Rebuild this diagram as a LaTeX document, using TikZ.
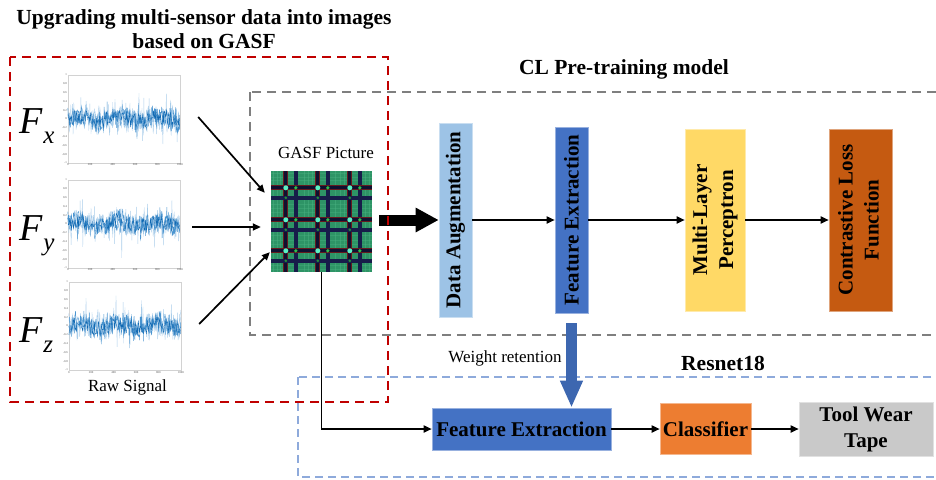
\documentclass[tikz,border=0pt]{standalone}
\usepackage{graphicx}
\usepackage{fontspec}
\setmainfont{Liberation Serif}
\usetikzlibrary{positioning, calc, arrows.meta}

\definecolor{augblue}{HTML}{9DC3E6}
\definecolor{featblue}{HTML}{4472C4}
\definecolor{mlpyellow}{HTML}{FFD966}
\definecolor{lossbrown}{HTML}{C55A11}
\definecolor{clsorange}{HTML}{ED7D31}
\definecolor{tapegray}{HTML}{C9C9C9}
\definecolor{framered}{HTML}{C00000}
\definecolor{framegray}{HTML}{7F7F7F}
\definecolor{frameblue}{HTML}{8EAADB}
\definecolor{sigpale}{HTML}{A9CDEA}
\definecolor{sigmid}{HTML}{4A94CF}
\definecolor{sigdark}{HTML}{1169B2}
\definecolor{gasfgreen}{HTML}{2E9466}
\definecolor{gasflight}{HTML}{4DB583}
\definecolor{gasfdark}{HTML}{0F1030}
\definecolor{gasfred}{HTML}{661A1E}
\definecolor{gasfnavy}{HTML}{171D4A}
\definecolor{gasfcyan}{HTML}{5CF2C2}
\definecolor{gasfdot}{HTML}{2FC04A}

\tikzset{
  headtext/.style={font=\rmfamily\fontsize{21.5}{23.5}\selectfont\bfseries, align=center},
  smalltext/.style={font=\rmfamily\fontsize{17}{19}\selectfont, inner sep=0pt},
  boxtext/.style={font=\rmfamily\fontsize{21}{26}\selectfont\bfseries, inner sep=0pt, align=center},
  stage/.style={boxtext, fill=#1, draw=#1!55!white, line width=0.6pt},
  flabel/.style={font=\rmfamily\fontsize{38}{40}\selectfont\itshape, inner sep=0pt},
  ticklbl/.style={font=\fontsize{3}{3}\selectfont, text=gray!70!black, inner sep=0.8pt},
  plotbox/.style={draw=gray!35, line width=0.4pt, minimum width=112pt, minimum height=88pt, inner sep=0pt},
  flow/.style={line width=1.7pt, -{Triangle[length=8pt,width=7pt]}},
  bigarrow/.style={line width=11pt, -{Triangle[length=23pt,width=23pt]}},
  weightarrow/.style={draw=featblue!90!black, line width=11pt, -{Triangle[length=27pt,width=21pt]}},
  framebox/.style={dash pattern=on 9pt off 6pt, line width=1.5pt}
}

% noisy trace inside a plot frame, #1 = frame node, #2 = seed
\newcommand{\rawsig}[2]{%
  \pgfmathsetseed{#2}
  \begin{scope}[shift={(#1.west)}]
    \draw[sigpale, line width=0.35pt] plot[domain=0:112, samples=300] (\x, {-42*(0.22*rand+0.78*rand*rand*rand)});
    \draw[sigmid, line width=0.35pt] plot[domain=0:112, samples=260] (\x, {-42*(0.08*sin(\x*9)+0.28*rand+0.4*rand*rand*rand)});
    \draw[sigdark, line width=0.35pt] plot[domain=0:112, samples=180] (\x, {-42*(0.06*sin(\x*9)+0.2*rand)});
    \foreach \v in {1,0.8,0.6,0.4,0.2,0,-0.2,-0.4,-0.6,-0.8,-1}
      \node[ticklbl, left] at (0,{-44*\v}) {\v};
    \foreach \k/\t in {0/0,1/200,2/400,3/600,4/800,5/1000}
      \node[ticklbl, below] at ({22.4*\k},44) {\t};
  \end{scope}
}

\begin{document}
\begin{tikzpicture}[x=1pt, y=-1pt]
  \clip (0,0) rectangle (936,479);

  % frames
  \draw[framebox, framegray] (250,92) rectangle (950,335);
  \draw[framebox, frameblue, dash pattern=on 8pt off 5pt] (298,377) rectangle (950,477);

  % headings
  \node[headtext] (ttlgasf) at (204,29) {Upgrading multi-sensor data into images\\based on GASF};
  \node[headtext, anchor=base] (ttlcl) at (624,74) {CL Pre-training model};
  \node[headtext, anchor=base] (ttlres) at (723,370) {Resnet18};

  % raw signals
  \node[plotbox] (fx) at (124,119) {};
  \node[plotbox] (fy) at (124,224) {};
  \node[plotbox] (fz) at (125,326) {};
  \rawsig{fx}{11}
  \rawsig{fy}{27}
  \rawsig{fz}{43}
  \node[flabel, anchor=base west] (lblx) at (19,133) {F\kern1pt\raisebox{-10pt}{\fontsize{25}{25}\selectfont x}};
  \node[flabel, anchor=base west] (lbly) at (19,240) {F\kern1pt\raisebox{-10pt}{\fontsize{25}{25}\selectfont y}};
  \node[flabel, anchor=base west] (lblz) at (19,342) {F\kern1pt\raisebox{-10pt}{\fontsize{25}{25}\selectfont z}};
  \node[smalltext, anchor=base] (rawlbl) at (127.5,391) {Raw Signal};

  % GASF image
  \node[minimum size=101pt, inner sep=0pt] (gasf) at (321.5,221.5) {};
  \begin{scope}[shift={(gasf.north west)}]
    \fill[gasfgreen] (0,0) rectangle (101,101);
    \foreach \p in {2,6,9,33,37,41,64,69,73,94,98} {
      \fill[gasflight, opacity=0.45] (\p,0) rectangle ++(1.6,101);
      \fill[gasflight, opacity=0.35] (0,\p) rectangle ++(101,1.6);
    }
    \foreach \p in {15,47,79} {
      \fill[gasfred] (\p-2.4,0) rectangle (\p+2.4,101);
      \fill[gasfdark] (\p-1.4,0) rectangle (\p+1.4,101);
      \fill[gasfnavy] (\p+8.2,0) rectangle (\p+11.8,101);
    }
    \foreach \p in {17,49,80} {
      \fill[gasfred] (0,\p-2.4) rectangle (101,\p+2.4);
      \fill[gasfdark] (0,\p-1.4) rectangle (101,\p+1.4);
      \fill[gasfnavy] (0,\p+8.2) rectangle (101,\p+11.8);
    }
    \foreach \a in {15,47,79} \foreach \b in {17,49,80} {
      \fill[gasfcyan] (\a,\b) circle (2.5);
      \fill[gasfdot] (\a+10,\b) circle (1.8);
      \fill[gasfdot!75!black] (\a,\b+10) circle (1.4);
    }
  \end{scope}
  \node[smalltext, anchor=base] (gasflbl) at (326,158) {GASF Picture};

  % pre-training stages
  \node[stage=augblue, minimum width=33pt, minimum height=194pt] (da) at (455.5,220) {\rotatebox{90}{Data Augmentation}};
  \node[stage=featblue, minimum width=33pt, minimum height=186pt] (fe1) at (571.5,220) {\rotatebox{90}{Feature Extraction}};
  \node[stage=mlpyellow, minimum width=60pt, minimum height=182pt] (mlp) at (715,220) {\rotatebox{90}{\begin{tabular}{@{}c@{}}Multi-Layer\\Perceptron\end{tabular}}};
  \node[stage=lossbrown, minimum width=63pt, minimum height=182pt] (clf) at (860.5,220) {\rotatebox{90}{\begin{tabular}{@{}c@{}}Contrastive Loss\\Function\end{tabular}}};

  % downstream stages
  \node[stage=featblue, minimum width=179pt, minimum height=42pt] (fe2) at (521.5,429) {Feature Extraction};
  \node[stage=clsorange, minimum width=91pt, minimum height=51pt] (cls) at (705.5,429) {Classifier};
  \node[stage=tapegray, minimum width=134pt, minimum height=54pt] (twt) at (866,429) {Tool Wear\\Tape};

  \draw[bigarrow] ($(gasf.east |- da.west)+(7,0)$) -- (da.west);
  \draw[framebox, framered, line width=1.8pt] (10,57) rectangle (388,402);

  \draw[flow] ($(fx.east)+(18,-2)$) -- ($(gasf.north west)+(-6,22)$);
  \draw[flow] ($(fy.east)+(12,3)$) -- ($(gasf.west)+(-10,5.5)$);
  \draw[flow] ($(fz.east)+(18,-2)$) -- ($(gasf.south west)+(-1,-20)$);

  \draw[flow] (da) -- (fe1);
  \draw[flow] (fe1) -- (mlp);
  \draw[flow] (mlp) -- (clf);
  \draw[flow] (gasf.south) |- (fe2);
  \draw[flow] (fe2) -- (cls);
  \draw[flow] (cls) -- (twt);

  % weights handed to the classifier backbone
  \draw[weightarrow] ([yshift=-10pt]fe1.south) -- (fe1.south |- fe2.north);
  \node[smalltext, anchor=base] (wlbl) at (505,362) {Weight retention};
\end{tikzpicture}
\end{document}
